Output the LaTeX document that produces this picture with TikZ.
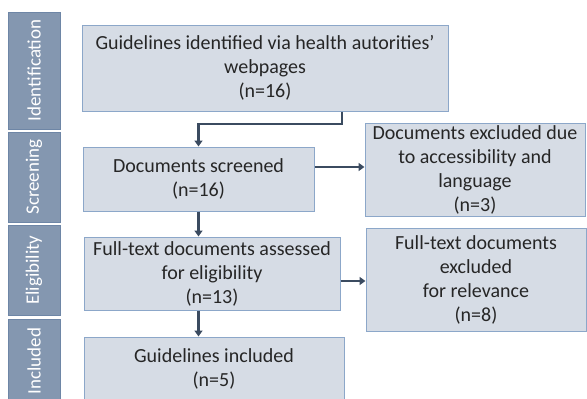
\documentclass[tikz,border=0pt]{standalone}
\usepackage{fontspec}
\setmainfont{Carlito}
\usetikzlibrary{arrows.meta,calc}
\definecolor{boxfill}{HTML}{D6DCE5}
\definecolor{boxline}{HTML}{8CA7C9}
\definecolor{barfill}{HTML}{8497B0}
\definecolor{barline}{HTML}{6E86A6}
\definecolor{arrcol}{HTML}{3B4B60}
\tikzset{
  box/.style={draw=boxline, fill=boxfill, line width=1pt, inner sep=2pt,
    align=center, font=\fontsize{20}{24}\selectfont, text=black!85},
  bar/.style={draw=barline, fill=barfill, line width=1pt, minimum height=52pt,
    text=white, rotate=90, font=\fontsize{19}{22}\selectfont, inner sep=0pt},
  arr/.style={draw=arrcol, line width=2.5pt, -{Triangle[length=6pt,width=8pt]}},
}
\begin{document}
\begin{tikzpicture}[x=1pt,y=-1pt]
\useasboundingbox (0,0) rectangle (587,399);
\begin{scope}
\clip (0,0) rectangle (587,399);
% side bars
\node[bar, minimum width=117pt] (sid) at (34,70.5) {Identification};
\node[bar, minimum width=90pt] (ssc) at (34,177) {Screening};
\node[bar, minimum width=90pt] (sel) at (34,270) {Eligibility};
\node[bar, minimum width=84pt] (sin) at (34,361) {Included};
% boxes
\node[box, minimum width=366pt, minimum height=86pt] (b1) at (265,68)
  {Guidelines identified via health autorities’\\webpages\\(n=16)};
\node[box, minimum width=231pt, minimum height=64pt] (b2) at (198.5,179)
  {Documents screened\\(n=16)};
\node[box, minimum width=220pt, minimum height=93pt] (b3) at (475,169.5)
  {Documents excluded due\\to accessibility and\\language\\(n=3)};
\node[box, minimum width=256pt, minimum height=73pt] (b4) at (212,273.5)
  {Full-text documents assessed\\for eligibility\\(n=13)};
\node[box, minimum width=220pt, minimum height=103pt] (b5) at (476,279.5)
  {Full-text documents\\excluded\\for relevance\\(n=8)};
\node[box, minimum width=260pt, minimum height=64pt] (b6) at (214,369)
  {Guidelines included\\(n=5)};
% connectors
\coordinate (k1) at (342,124);
\coordinate (k2) at (0,167);
\coordinate (k3) at (0,281);
\draw[arr] (b1.south -| k1) -- (k1) -| (b2.north);
\draw[arr] (b2.east |- k2) -- (b3.west |- k2);
\draw[arr] (b2.south) -- (b4.north -| b2.south);
\draw[arr] (b4.east |- k3) -- (b5.west |- k3);
\draw[arr] (b4.south -| b2.south) -- (b6.north -| b2.south);
\end{scope}
\end{tikzpicture}
\end{document}
